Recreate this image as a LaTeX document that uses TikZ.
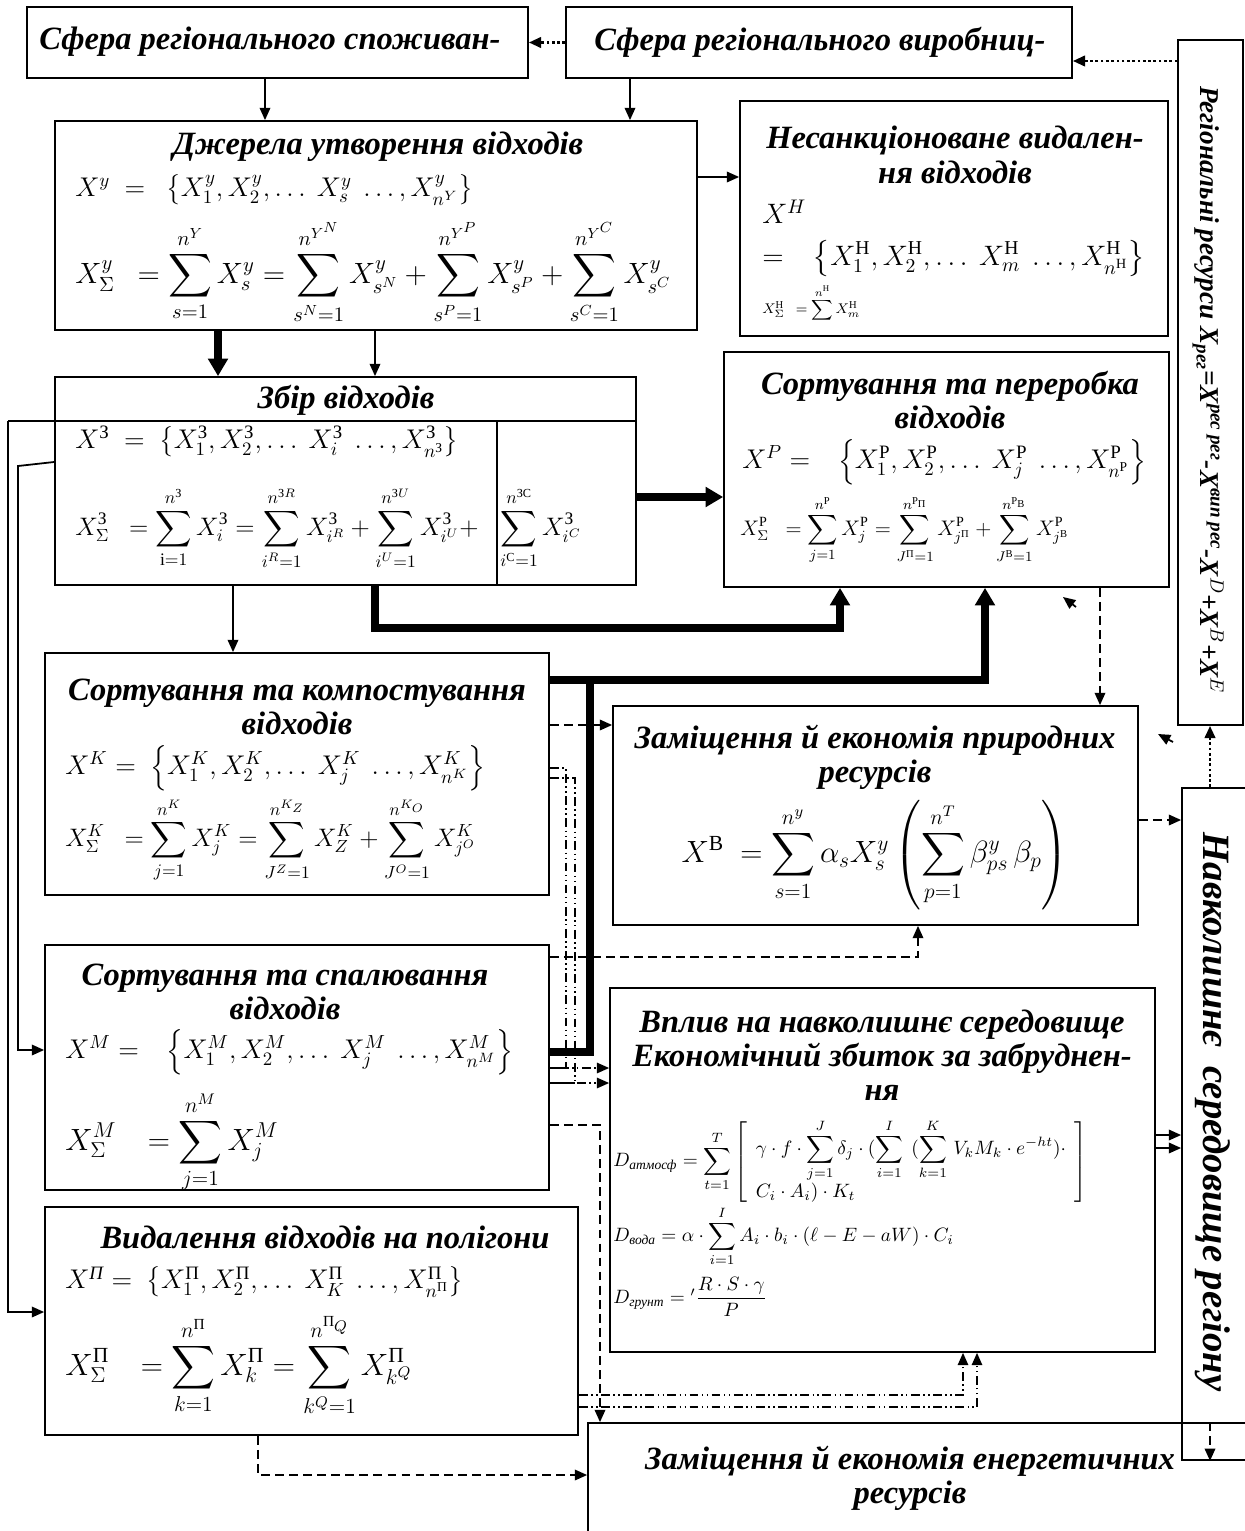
\RequirePackage{fix-cm}
\documentclass[tikz,border=0pt]{standalone}
\usepackage{amsmath}
\usepackage{fontspec}
\setmainfont{Liberation Serif}
\usetikzlibrary{arrows.meta}
\newcommand\cy[1]{\textnormal{#1}}
\newcommand\cyi[1]{\textnormal{\itshape #1}}
\newcommand\panelbox[5]{\node[panel, minimum width={(#4-#2)*0.02cm}, minimum height={(#5-#3)*0.02cm}] (#1) at ({(#2+#4)/2},{(#3+#5)/2}) {};}
\tikzset{
	>={Triangle[length=7pt,width=6pt]},
	panel/.style={draw, line width=1pt, inner sep=0pt},
	head/.style={font=\fontsize{18.5}{19.5}\selectfont\bfseries\itshape, align=center, inner sep=0pt},
	formula/.style={font=\fontsize{15.4}{18}\selectfont, anchor=west, inner sep=0pt},
	small/.style={font=\fontsize{11}{13}\selectfont},
	link/.style={line width=1pt, ->},
	heavy/.style={line width=4pt, -{Triangle[length=10pt,width=11pt]}},
	dashlink/.style={line width=1pt, dash pattern=on 5pt off 3pt, ->},
	dotlink/.style={line width=1.5pt, dash pattern=on 1.5pt off 1.5pt, ->},
	ddlink/.style={line width=0.8pt, dash pattern=on 5pt off 2pt on 0.8pt off 2pt on 0.8pt off 2pt}
}
\begin{document}
\begin{tikzpicture}[x=0.02cm,y=-0.02cm]
	\useasboundingbox (0,0) rectangle (1244,1531);
	\panelbox{cons}{27}{7}{528}{78}
	\panelbox{prod}{566}{7}{1072}{78}
	\panelbox{regres}{1178}{40}{1243}{725}
	\panelbox{src}{55}{121}{697}{330}
	\panelbox{illegal}{740}{101}{1168}{336}
	\panelbox{coll}{55}{377}{636}{585}
	\panelbox{recyc}{724}{352}{1169}{587}
	\panelbox{comp}{45}{653}{549}{895}
	\panelbox{natres}{613}{706}{1138}{925}
	\panelbox{burn}{45}{945}{549}{1190}
	\panelbox{impact}{610}{988}{1155}{1352}
	\panelbox{env}{1182}{788}{1250}{1460}
	\panelbox{landf}{45}{1207}{578}{1435}
	\panelbox{energy}{588}{1423}{1250}{1540}

	\node[head] (consT) at (270,42) {Сфера регіонального споживан-};
	\node[head] (prodT) at (820,42) {Сфера регіонального виробниц-};
	\node[head, rotate=-90, font=\fontsize{15.5}{18}\selectfont\bfseries\itshape] (regT) at (1208,390) {Регіональні ресурси X$_{\textit{рег}}$=X$^{\textit{рес рег}}$-X$^{\textit{вип рес}}$-X$^{D}$+X$^{B}$+X$^{E}$};

	\node[head] (srcT) at (378,147) {Джерела утворення відходів};
	\node[formula] (srcA) at (75,190) {$X^{y}\ =\ \ \left\{X_1^{y},X_2^{y},\ldots\ X_s^{y}\ \ldots,X_{n^{Y}}^{y}\right\}$};
	\node[formula, font=\fontsize{16.7}{20}\selectfont] (srcB) at (75,272) {$\displaystyle X_{\Sigma}^{y}\ \ =\sum_{s=1}^{n^{Y}}X_s^{y}=\sum_{s^N=1}^{n^{Y^N}}X_{s^N}^{y}+\sum_{s^P=1}^{n^{Y^P}}X_{s^P}^{y}+\sum_{s^C=1}^{n^{Y^C}}X_{s^C}^{y}$};

	\node[head] (illT) at (955,155) {Несанкціоноване видален-\\ня відходів};
	\node[formula, font=\fontsize{16}{19}\selectfont] (illA) at (762,212) {$X^{H}$};
	\node[formula, font=\fontsize{16}{19}\selectfont] (illB) at (762,258) {$=\ \ \ \left\{X_1^{\cy{Н}},X_2^{\cy{Н}},\ldots\ X_m^{\cy{Н}}\ \ldots,X_{n^{\cy{Н}}}^{\cy{Н}}\right\}$};
	\node[formula, font=\fontsize{8}{10}\selectfont] (illC) at (762,303) {$\displaystyle X_{\Sigma}^{\cy{Н}}\ \ =\sum^{n^{\cy{Н}}}X_m^{\cy{Н}}$};

	\node[head] (collT) at (346,400) {Збір відходів};
	\node[formula] (collA) at (75,442) {$X^{\cy{З}}\ =\ \left\{X_1^{\cy{З}},X_2^{\cy{З}},\ldots\ X_i^{\cy{З}}\ \ldots,X_{n^{\cy{З}}}^{\cy{З}}\right\}$};
	\node[formula, font=\fontsize{14.4}{17}\selectfont] (collB) at (75,528) {$\displaystyle X_{\Sigma}^{\cy{З}}\ \ =\sum_{\mathrm{i}=1}^{n^{\cy{З}}}X_i^{\cy{З}}=\sum_{i^R=1}^{n^{\cy{З}R}}X_{i^R}^{\cy{З}}+\sum_{i^U=1}^{n^{\cy{З}U}}X_{i^U}^{\cy{З}}+$};
	\node[formula, font=\fontsize{14.4}{17}\selectfont] (collC) at (500,528) {$\displaystyle\sum_{i^{\cy{С}}=1}^{n^{\cy{З}\cy{С}}}X_{i^C}^{\cy{З}}$};

	\node[head] (recT) at (950,400) {Сортування та переробка\\відходів};
	\node[formula] (recA) at (742,462) {$X^{P}=\ \ \ \left\{X_1^{\cy{Р}},X_2^{\cy{Р}},\ldots\ X_j^{\cy{Р}}\ \ldots,X_{n^{\cy{Р}}}^{\cy{Р}}\right\}$};
	\node[formula, font=\fontsize{12}{14}\selectfont] (recB) at (740,530) {$\displaystyle X_{\Sigma}^{\cy{Р}}\ \ =\sum_{j=1}^{n^{\cy{Р}}}X_j^{\cy{Р}}=\sum_{J^{\cy{П}}=1}^{n^{\cy{Р}_{\cy{П}}}}X_{j^{\cy{П}}}^{\cy{Р}}+\sum_{J^{\cy{В}}=1}^{n^{\cy{Р}_{\cy{В}}}}X_{j^{\cy{В}}}^{\cy{Р}}$};

	\node[head] (compT) at (297,707) {Сортування та компостування\\відходів};
	\node[formula] (compA) at (65,768) {$X^{K}=\ \left\{X_1^{K},X_2^{K},\ldots\ X_j^{K}\ \ldots,X_{n^{K}}^{K}\right\}$};
	\node[formula, font=\fontsize{14.4}{17}\selectfont] (compB) at (65,840) {$\displaystyle X_{\Sigma}^{K}\ \ =\sum_{j=1}^{n^{K}}X_j^{K}=\sum_{J^Z=1}^{n^{K_Z}}X_{Z}^{K}+\sum_{J^O=1}^{n^{K_O}}X_{j^O}^{K}$};

	\node[head] (natT) at (875,757) {Заміщення й економія природних\\ресурсів};
	\node[formula, anchor=center, font=\fontsize{17.5}{21}\selectfont] (natA) at (875,855) {$\displaystyle X^{\cy{В}}\ =\sum_{s=1}^{n^{y}}\alpha_sX_s^{y}\left(\sum_{p=1}^{n^{T}}\beta_{ps}^{y}\,\beta_p\right)$};

	\node[head] (burnT) at (285,992) {Сортування та спалювання\\відходів};
	\node[formula] (burnA) at (65,1052) {$X^{M}=\ \ \ \left\{X_1^{M},X_2^{M},\ldots\ X_j^{M}\ \ldots,X_{n^{M}}^{M}\right\}$};
	\node[formula, font=\fontsize{17.5}{20}\selectfont] (burnB) at (65,1142) {$\displaystyle X_{\Sigma}^{M}\ \ \ =\sum_{j=1}^{n^{M}}X_j^{M}$};

	\node[head] (impT) at (882,1055) {Вплив на навколишнє середовище\\Економічний збиток за забруднен-\\ня};
	\node[formula, small] (impA) at (613,1162) {$D_{\textit{атмосф}}=\displaystyle\sum_{t=1}^{T}\left[\begin{array}{l}\displaystyle\gamma\cdot f\cdot\sum_{j=1}^{J}\delta_j\cdot(\sum_{i=1}^{I}\ \,(\sum_{k=1}^{K}\,V_kM_k\cdot e^{-ht})\cdot\\[2pt] C_i\cdot A_i)\cdot K_t\end{array}\right]$};
	\node[formula, small] (impB) at (613,1236) {$D_{\textit{вода}}=\alpha\cdot\displaystyle\sum_{i=1}^{I}A_i\cdot b_i\cdot(\ell-E-aW)\cdot C_i$};
	\node[formula, small] (impC) at (613,1297) {$D_{\textit{грунт}}={}'\dfrac{R\cdot S\cdot\gamma}{P}$};

	\node[head] (landT) at (325,1237) {Видалення відходів на полігони};
	\node[formula] (landA) at (65,1282) {$X^{\cyi{П}}=\ \left\{X_1^{\cy{П}},X_2^{\cy{П}},\ldots\ X_K^{\cy{П}}\ \ldots,X_{n^{\cy{П}}}^{\cy{П}}\right\}$};
	\node[formula, font=\fontsize{17.5}{20}\selectfont] (landB) at (65,1365) {$\displaystyle X_{\Sigma}^{\cy{П}}\ \ \ =\sum_{k=1}^{n^{\cy{П}}}X_k^{\cy{П}}=\sum_{k^Q=1}^{n^{\cy{П}_Q}}X_{k^Q}^{\cy{П}}$};

	\node[head] (energyT) at (910,1478) {Заміщення й економія енергетичних\\ресурсів};
	\node[head, rotate=-90, font=\fontsize{22}{24}\selectfont\bfseries\itshape] (envT) at (1213,1112) {Навколишнє\ \ середовище регіону};

	\draw[line width=1pt] (8,421) -- (coll.east |- 0,421);
	\draw[line width=1pt] (497,421) -- (497,0 |- coll.south);

	\draw[dotlink] (prod.west) -- (cons.east);
	\draw[dotlink] (regres.west |- 0,61) -- (prod.east |- 0,61);
	\draw[link] (265,0 |- cons.south) -- (265,0 |- src.north);
	\draw[link] (630,0 |- prod.south) -- (630,0 |- src.north);
	\draw[link] (src.east |- 0,177) -- (illegal.west |- 0,177);
	\draw[heavy] (218,0 |- src.south) -- (218,0 |- coll.north);
	\draw[link] (375,0 |- src.south) -- (375,0 |- coll.north);
	\draw[heavy] (coll.east |- 0,497) -- (recyc.west |- 0,497);
	\draw[link] (233,0 |- coll.south) -- (233,0 |- comp.north);
	\draw[heavy] (375,0 |- coll.south) -- (375,628) -- (840,628) -- (840,0 |- recyc.south);
	\draw[heavy] (comp.east |- 0,680) -- (985,680) -- (985,0 |- recyc.south);
	\draw[line width=4pt] (burn.east |- 0,1052) -- (590,1052) -- (590,680);

	\draw[link] (8,421) -- (8,1312) -- (landf.west |- 0,1312);
	\draw[link] (coll.west |- 0,462) -- (18,466) -- (18,1050) -- (burn.west |- 0,1050);

	\draw[dashlink] (comp.east |- 0,725) -- (natres.west |- 0,725);
	\draw[dashlink] (burn.east |- 0,957) -- (918,957) -- (918,0 |- natres.south);
	\draw[dashlink] (1100,0 |- recyc.south) -- (1100,0 |- natres.north);
	\draw[dashlink] (natres.east |- 0,820) -- (env.west |- 0,820);
	\draw[link] (impact.east |- 0,1135) -- (env.west |- 0,1135);
	\draw[link] (impact.east |- 0,1148) -- (env.west |- 0,1148);
	\draw[dotlink] (1210,0 |- env.north) -- (1210,0 |- regres.south);
	\draw[dashlink] (1210,0 |- energy.north) -- (1210,0 |- env.south);
	\draw[dashlink] (258,0 |- landf.south) -- (258,1475) -- (energy.west |- 0,1475);
	\draw[dashlink] (burn.east |- 0,1125) -- (600,1125) -- (600,0 |- energy.north);

	\draw[ddlink, ->] (comp.east |- 0,768) -- (566,768) -- (566,1068) -- (impact.west |- 0,1068);
	\draw[ddlink, ->] (comp.east |- 0,778) -- (575,778) -- (575,1083) -- (impact.west |- 0,1083);
	\draw[line width=1pt] (burn.east |- 0,1068) -- (566,1068);
	\draw[line width=1pt] (burn.east |- 0,1083) -- (575,1083);
	\draw[ddlink, ->] (landf.east |- 0,1395) -- (963,1395) -- (963,0 |- impact.south);
	\draw[ddlink, ->] (landf.east |- 0,1407) -- (977,1407) -- (977,0 |- impact.south);

	\draw[link] (1076,607) -- (1063,597);
	\draw[link] (1173,742) -- (1158,734);
\end{tikzpicture}
\end{document}
